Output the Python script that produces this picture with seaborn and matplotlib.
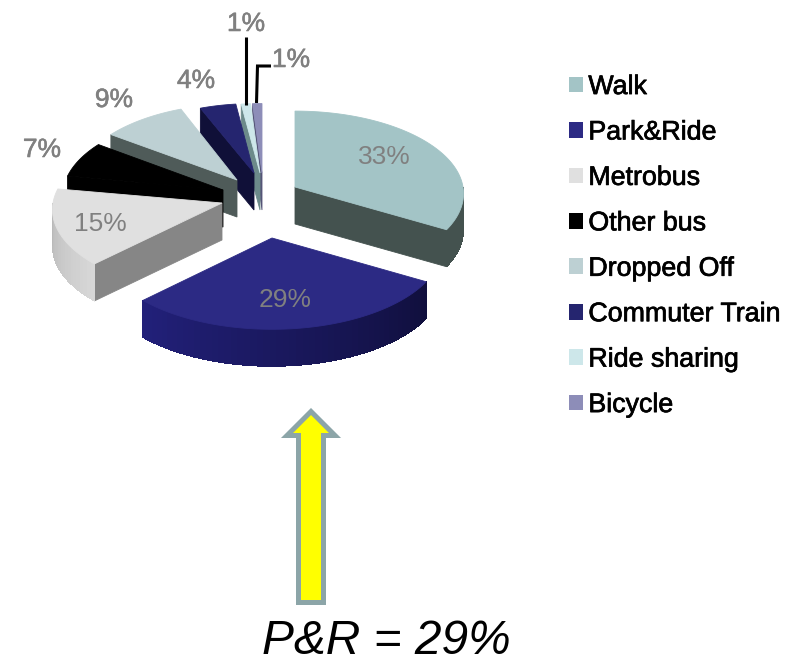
import numpy as np
import matplotlib
matplotlib.use("Agg")
import matplotlib.pyplot as plt
import matplotlib.patheffects as pe
from matplotlib.patches import Polygon, Patch, FancyArrow
from matplotlib.colors import to_rgb
import seaborn as sns

# ---- data ----
categories = ["Walk", "Park&Ride", "Metrobus", "Other bus", "Dropped Off",
              "Commuter Train", "Ride sharing", "Bicycle"]
shares = [33, 29, 15, 7, 9, 4, 1, 1]
pct_labels = ["33%", "29%", "15%", "7%", "9%", "4%", "1%", "1%"]
callout = "P&R = 29%"

# ---- style ----
top_colors = ["#A3C4C6", "#2C2A84", "#E0E0E0", "#000000", "#BDD0D3", "#25256F", "#CDE7EA", "#8D8DB8"]
legend_colors = ["#A3C4C6", "#2C2A84", "#E0E0E0", "#000000", "#BDD0D3", "#25256F", "#CDE7EA", "#8D8DB8"]
radial_colors = ["#44524F", "#100F3C", "#868686", "#000000", "#4F5B59", "#101038", "#6C8A8A", "#555577"]
arc_left = ["#44524F", "#22207A", "#B8B8B8", "#000000", "#4F5B59", "#101038", "#6C8A8A", "#555577"]
arc_right = ["#44524F", "#100F3C", "#D8D8D8", "#000000", "#4F5B59", "#101038", "#6C8A8A", "#555577"]
apex_x = [295, 272, 222, 223, 237, 254, 260, 262]
apex_y = [187, 238, 203, 190, 180, 173, 173, 173]
radius_x = [168, 171, 169, 160, 162, 155, 160, 160]
radius_y = [82, 84, 82, 82, 82, 75, 75, 75]
label_xy = [(384, 157), (285, 300), (100, 224), (42, 150), (114, 100), (196, 81), (246, 24), (291, 60)]
label_stroke = [0, 0, 0, 0.4, 0.4, 0.4, 0.4, 0.4]
tilt, depth = 0.08, 37
GRAY = "#808080"

sns.set_theme(style="white")
plt.rcParams["font.family"] = ["Liberation Sans", "DejaVu Sans"]

fig = plt.figure(figsize=(7.93, 6.63), dpi=100)
ax = fig.add_axes([0, 0, 1, 1])
ax.set_xlim(0, 793)
ax.set_ylim(663, 0)
ax.axis("off")

edges = np.concatenate([[0], np.cumsum(shares)]) / sum(shares) * 360


def rim(i, t):
    t = np.radians(np.atleast_1d(t))
    u, v = np.sin(t), np.cos(t)
    w = 1 + tilt * v
    return np.column_stack([apex_x[i] + radius_x[i] * u / w, apex_y[i] - radius_y[i] * v / w])


def add_poly(pts, color, z, lw=0.6):
    ax.add_patch(Polygon(pts, closed=True, facecolor=color, edgecolor=color, lw=lw, zorder=z))


draw_order = [7, 6, 5, 4, 3, 0, 2, 1]
for z, i in enumerate(draw_order):
    t1, t2 = edges[i], edges[i + 1]
    base = 10 * z + 1
    apex = np.array([apex_x[i], apex_y[i]], float)
    drop = np.array([0, depth])
    # radial face turned toward the viewer
    ta = t2 if t2 <= 180 else (t1 if t1 >= 180 else None)
    if ta is not None:
        p = rim(i, ta)[0]
        add_poly([apex, p, p + drop, apex + drop], radial_colors[i], base)
    # outer rim, shaded in overlapping strips
    a, b = max(t1, 90), min(t2, 270)
    if a < b:
        steps = np.linspace(a, b, max(2, int((b - a) / 2) + 1))
        c_right, c_left = np.array(to_rgb(arc_right[i])), np.array(to_rgb(arc_left[i]))
        for s0, s1 in zip(steps[:-1], steps[1:]):
            f = ((s0 + s1) / 2 - a) / max(b - a, 1e-6)
            col = tuple(c_right + (c_left - c_right) * f)
            q = rim(i, np.linspace(s0, min(s1 + 1.5, b), 4))
            ax.add_patch(Polygon(np.vstack([q, q[::-1] + drop]), closed=True, facecolor=col,
                                 edgecolor="none", antialiased=False, zorder=base + 1))
    # top surface
    arc = rim(i, np.linspace(t1, t2, max(3, int(t2 - t1) * 2)))
    add_poly(np.vstack([apex, arc]), top_colors[i], base + 2)

for txt, (x, y), sw in zip(pct_labels, label_xy, label_stroke):
    t = ax.text(x, y, txt, color=GRAY, fontsize=19, ha="center", va="center", zorder=200)
    if sw:
        t.set_path_effects([pe.withStroke(linewidth=sw, foreground=GRAY)])

# leader lines
ax.plot([246, 246], [37, 105], color="black", lw=2.2, zorder=90, solid_capstyle="butt")
ax.plot([271, 257.5, 256.5], [66, 66, 103], color="black", lw=2.2, zorder=90,
        solid_capstyle="butt", solid_joinstyle="miter")

# arrow
arrow = FancyArrow(311, 602.5, 0, -191, width=25, head_width=48, head_length=24,
                   length_includes_head=True, facecolor="#FFFF00", edgecolor="#8CA5A8",
                   lw=3.6, joinstyle="miter", zorder=100)
ax.add_patch(arrow)

ax.text(386, 654, callout, style="italic", fontsize=34.5, color="black",
        ha="center", va="baseline", zorder=100)

handles = [Patch(facecolor=c, edgecolor="none") for c in legend_colors]
leg = ax.legend(handles, categories, loc="upper left", bbox_to_anchor=(561, 66),
                bbox_transform=ax.transData, frameon=False, fontsize=19.3,
                handlelength=0.52, handleheight=0.52, handletextpad=0.2,
                labelspacing=0.725, borderpad=0.3, borderaxespad=0, labelcolor="black")
leg.set_zorder(150)
for t in leg.get_texts():
    t.set_path_effects([pe.withStroke(linewidth=0.5, foreground="black")])

fig.savefig("out.png", dpi=100)
